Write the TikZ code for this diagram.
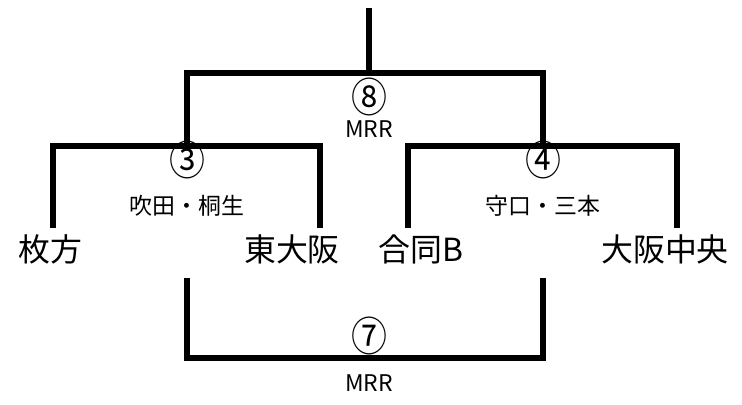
\documentclass[tikz,border=0pt]{standalone}
\usepackage{fontspec}
\setmainfont{Noto Sans CJK JP}
\tikzset{
  bracket/.style={line width=5.5bp,line join=miter,line cap=butt},
  team/.style={inner sep=0pt,font=\fontsize{32}{36}\selectfont},
  roundno/.style={inner sep=0pt,xscale=0.88,font=\fontsize{41}{44}\selectfont},
  venue/.style={inner sep=0pt,font=\fontsize{23}{26}\selectfont},
}
\begin{document}
\begin{tikzpicture}[line join=bevel,]
  \useasboundingbox (0bp,0bp) rectangle (742bp,405bp);
%%
  % Node: teams
  \node[team] (hirakata) at (50bp,156bp) {枚方};
  \node[team] (higashi) at (292bp,156bp) {東大阪};
  \node[team] (godo) at (421bp,156bp) {合同B};
  \node[team] (chuo) at (665bp,156bp) {大阪中央};
  % Node: bracket ends
  \coordinate (r3l) at (53bp,177bp);
  \coordinate (r3r) at (320bp,177bp);
  \coordinate (r4l) at (408bp,177bp);
  \coordinate (r4r) at (677bp,177bp);
  \coordinate (r3top) at (187bp,259bp);
  \coordinate (r4top) at (543bp,259bp);
  \coordinate (r8top) at (369bp,332bp);
  \coordinate (final) at (369bp,397bp);
  \coordinate (r7l) at (187bp,127bp);
  \coordinate (r7r) at (543bp,127bp);
  \coordinate (r7low) at (369bp,47bp);
  % Edge: match 3
  \draw[bracket] (r3l) |- (r3top) -| (r3r);
  % Edge: match 4
  \draw[bracket] (r4l) |- (r4top) -| (r4r);
  % Edge: match 8
  \draw[bracket] (r3top) |- (r8top) -| (r4top);
  \draw[bracket] (r8top) -- (final);
  % Edge: match 7
  \draw[bracket] (r7l) |- (r7low) -| (r7r);
  % Node: labels
  \node[roundno] (no8) at (369bp,308bp) {⑧};
  \node[venue] (v8) at (369bp,276bp) {MRR};
  \node[roundno] (no3) at (187bp,245bp) {③};
  \node[venue] (v3) at (187bp,199bp) {吹田・桐生};
  \node[roundno] (no4) at (543bp,245bp) {④};
  \node[venue] (v4) at (543bp,199bp) {守口・三本};
  \node[roundno] (no7) at (369bp,69bp) {⑦};
  \node[venue] (v7) at (369bp,22bp) {MRR};
%
\end{tikzpicture}
\end{document}
